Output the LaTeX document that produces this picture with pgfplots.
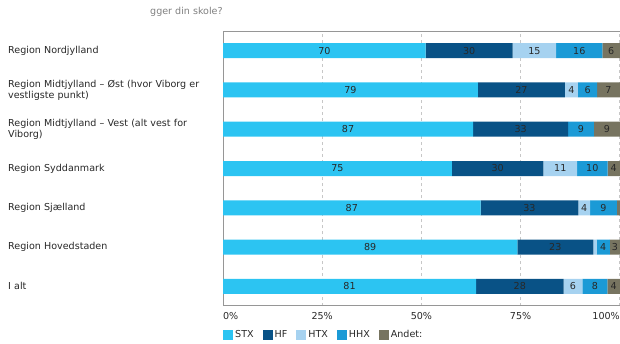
\documentclass[border=0pt]{standalone}
\usepackage{pgfplots}
\pgfplotsset{compat=1.18}
\usepackage{pgfplotstable}
\usepackage{fontspec}
\setmainfont{DejaVu Sans}
\definecolor{cstx}{RGB}{44,196,242}
\definecolor{chf}{RGB}{9,82,134}
\definecolor{chtx}{RGB}{166,210,240}
\definecolor{chhx}{RGB}{27,154,214}
\definecolor{cand}{RGB}{119,116,96}
\definecolor{axgray}{RGB}{150,150,150}
\definecolor{txt}{RGB}{40,40,40}

% counts per region; tot = row total (used to scale each bar to 100 %)
\pgfplotstableread{
idx stx hf htx hhx andet tot
7 70 30 15 16 6 137
6 79 27 4 6 7 123
5 87 33 0 9 9 138
4 75 30 11 10 4 130
3 87 33 4 9 1 134
2 89 23 1 4 3 120
1 81 28 6 8 4 127
}\data

\pgfplotsset{seg/.style={
  draw=none,
  point meta=explicit symbolic,
  nodes near coords={\ifnum\pgfplotspointmeta<2 \else\pgfplotspointmeta\fi},
  every node near coord/.append style={anchor=center, inner sep=0pt, color=txt},
}}

\begin{document}
\begin{tikzpicture}[font=\fontsize{9.6}{11}\selectfont]
\path[use as bounding box] (0,0) rectangle (620bp,344bp);
\node[anchor=west, text=gray, inner sep=0pt] at (150bp,332bp) {gger din skole?};
\begin{axis}[
  at={(223bp,38bp)}, anchor=south west,
  scale only axis, width=397bp, height=275bp,
  xbar stacked, bar width=15bp,
  xmin=0, xmax=100.05, ymin=0.5, ymax=7.5,
  axis line style={draw=none},
  xtick={0,25,50,75,100},
  xticklabels={\makebox[0pt][l]{0\%},25\%,50\%,75\%,\makebox[0pt][r]{100\%}},
  ytick={1,...,7},
  yticklabels={I alt, Region Hovedstaden, Region Sjælland, Region Syddanmark,
    {Region Midtjylland – Vest (alt vest for\\Viborg)},
    {Region Midtjylland – Øst (hvor Viborg er\\vestligste punkt)},
    Region Nordjylland},
  major tick length=0pt,
  xticklabel style={color=txt, yshift=-3bp},
  yticklabel style={anchor=west, text width=212bp, align=left, inner sep=0pt, xshift=-215bp, color=txt},
  xmajorgrids, grid style={dashed, color=black!22, line width=0.8bp},
  legend columns=-1,
  legend style={at={(0,0)}, anchor=west, yshift=-29bp, draw=none, fill=none, inner sep=0pt,
     text=txt, /tikz/every even column/.append style={column sep=7bp},
     nodes={inner xsep=2bp}},
  legend image code/.code={\fill[#1] (0bp,-5bp) rectangle (10bp,5bp);},
]
\addplot[fill=cstx, seg] table[x expr=\thisrow{stx}/\thisrow{tot}*100, y=idx, meta=stx] {\data};
\addplot[fill=chf, seg] table[x expr=\thisrow{hf}/\thisrow{tot}*100, y=idx, meta=hf] {\data};
\addplot[fill=chtx, seg] table[x expr=\thisrow{htx}/\thisrow{tot}*100, y=idx, meta=htx] {\data};
\addplot[fill=chhx, seg] table[x expr=\thisrow{hhx}/\thisrow{tot}*100, y=idx, meta=hhx] {\data};
\addplot[fill=cand, seg] table[x expr=\thisrow{andet}/\thisrow{tot}*100, y=idx, meta=andet] {\data};
\legend{STX,HF,HTX,HHX,Andet:}
\draw[axgray, line width=1.2bp] (rel axis cs:1,1) -- (rel axis cs:0,1) -- (rel axis cs:0,0) -- (rel axis cs:1,0);
\end{axis}
\end{tikzpicture}
\end{document}
